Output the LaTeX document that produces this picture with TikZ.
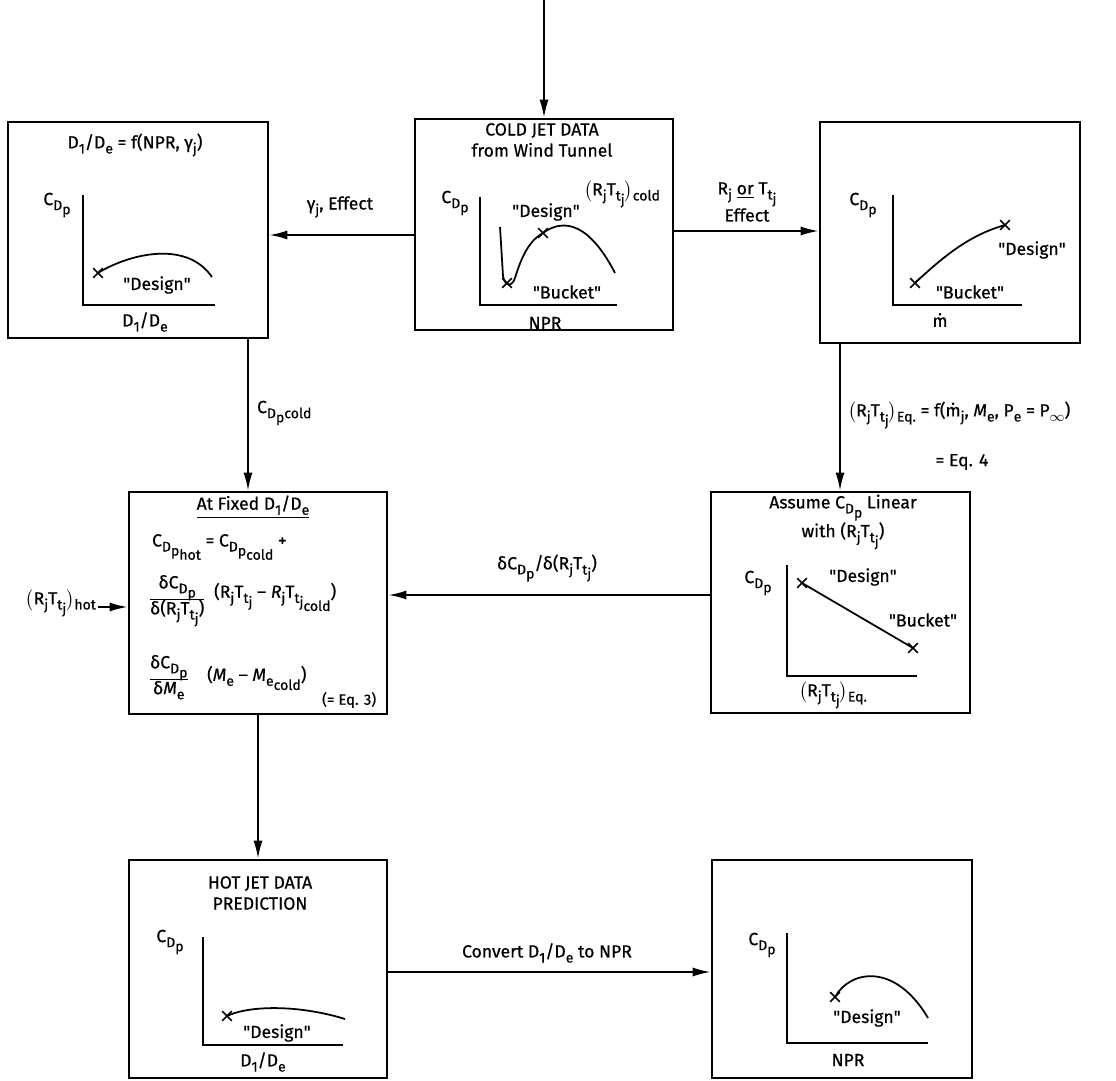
\documentclass[tikz,border=0pt]{standalone}
\usepackage{fontspec}
\setmainfont{Fira Sans}[FakeBold=0.6]
\usetikzlibrary{arrows.meta,shapes.misc}
\newcommand{\fnt}{\fontsize{10}{12}\selectfont}
\newcommand{\lw}[1]{\raisebox{-0.55ex}{\fontsize{8}{9}\selectfont #1}}
\newcommand{\cdp}{C\lw{D\lw{p}}}
\newcommand{\rt}{R\lw{j}T\lw{t\lw{j}}}
\newcommand{\frc}[2]{\begin{tabular}{@{}c@{}}#1\\[-1pt]\hline #2\end{tabular}}
\newcommand{\qt}[1]{\textquotedbl#1\textquotedbl}

\begin{document}
\begin{tikzpicture}[x=0.02cm, y=-0.02cm, font=\fnt,
  box/.style={draw, line width=1.5pt, inner sep=0pt},
  flow/.style={-{Latex[length=3.6mm,width=1.8mm]}, line width=1.1pt},
  axis/.style={line width=1.3pt},
  curve/.style={line width=1pt},
  lbl/.style={inner sep=1pt},
  xm/.style={cross out, draw, line width=0.9pt, minimum size=0.16cm, inner sep=0pt}]
\useasboundingbox (0,0) rectangle (1116,1081);

% boxes
\node[box, minimum width=5.20cm, minimum height=4.32cm] (dratio) at (138,230) {};
\node[box, minimum width=5.16cm, minimum height=4.22cm] (cold) at (544,224.5) {};
\node[box, minimum width=5.20cm, minimum height=4.42cm] (mflow) at (950,232.5) {};
\node[box, minimum width=5.18cm, minimum height=4.42cm] (linear) at (840.5,602.5) {};
\node[box, minimum width=5.16cm, minimum height=4.44cm] (fixed) at (258,603) {};
\node[box, minimum width=5.16cm, minimum height=4.36cm] (hot) at (258,969) {};
\node[box, minimum width=5.20cm, minimum height=4.36cm] (npr) at (842,969) {};

% connectors
\coordinate (src) at (544,0);
\coordinate (hotin) at (98,607);
\draw[flow] (src) -- (cold.north);
\draw[flow] (cold.west |- 0,235) -- (dratio.east |- 0,235);
\draw[flow] (cold.east |- 0,231) -- (mflow.west |- 0,231);
\draw[flow] (dratio.south -| 248,0) -- (fixed.north -| 248,0);
\draw[flow] (mflow.south -| 840,0) -- (linear.north -| 840,0);
\draw[flow] (linear.west |- 0,595) -- (fixed.east |- 0,595);
\draw[flow] (hotin) -- (fixed.west |- hotin);
\draw[flow] (fixed.south) -- (hot.north);
\draw[flow] (hot.east |- 0,972) -- (npr.west |- 0,972);

% connector labels
\node[lbl] (lgam) at (340,207) {γ\lw{j}, Effect};
\node[lbl, align=center] (lrt) at (747,202) {R\lw{j} \underline{or} T\lw{t\lw{j}}\\Effect};
\node[lbl, anchor=west] (lcold) at (255,413) {\cdp\lw{cold}};
\node[lbl, anchor=west] (leq) at (846,415) {$\big($\rt$\big)$\lw{Eq.} = f(\.m\lw{j}, \textit{M}\lw{e}, P\lw{e} = P\lw{$\infty$})};
\node[lbl] (leq4) at (962,462) {= Eq. 4};
\node[lbl] (lslope) at (547,568) {δ\cdp/δ(\rt)};
\node[lbl, anchor=east] (lhot) at (98,603) {$\big($\rt$\big)$\lw{hot}};
\node[lbl] (lconv) at (547,953) {Convert D\lw{1}/D\lw{e} to NPR};

% D1/De box
\node[lbl] (ta) at (135,145) {D\lw{1}/D\lw{e} = f(NPR, γ\lw{j})};
\node[lbl] (ya) at (57,205) {\cdp};
\draw[axis] (83,195) -- (83,305) -- (215,305);
\draw[curve] (98,273) .. controls (125,256) and (185,238) .. (212,277);
\node[xm] (xa) at (98,273) {};
\node[lbl] (da) at (157,285) {\qt{Design}};
\node[lbl] (ua) at (145,322) {D\lw{1}/D\lw{e}};

% cold jet box
\node[lbl, align=center] (tb) at (542,140) {COLD JET DATA\\from Wind Tunnel};
\node[lbl] (rb) at (622,194) {$\big($\rt$\big)$\lw{cold}};
\node[lbl] (yb) at (455,203) {\cdp};
\draw[axis] (480,197) -- (480,305) -- (617,305);
\draw[curve] (500,227) -- (503,276) .. controls (505,287) and (512,287) .. (515,278)
  .. controls (522,255) and (530,240) .. (543,233) .. controls (558,222) and (585,215) .. (615,273);
\node[xm] (xb1) at (507,283) {};
\node[xm] (xb2) at (543,233) {};
\node[lbl] (db) at (546,212) {\qt{Design}};
\node[lbl] (bb) at (567,292) {\qt{Bucket}};
\node[lbl] (ub) at (545,323) {NPR};

% mass flow box
\node[lbl] (yc) at (863,205) {\cdp};
\draw[axis] (893,195) -- (893,305) -- (1022,305);
\draw[curve] (915,283) .. controls (945,255) and (970,235) .. (1005,225);
\node[xm] (xc1) at (915,283) {};
\node[xm] (xc2) at (1005,225) {};
\node[lbl] (dc) at (1032,250) {\qt{Design}};
\node[lbl] (bc) at (970,292) {\qt{Bucket}};
\node[lbl] (uc) at (940,320) {\.m};

% linear box
\node[lbl, align=center] (td) at (843,522) {Assume \cdp{} Linear\\with (\rt)};
\node[lbl] (yd) at (758,583) {\cdp};
\draw[axis] (787,565) -- (787,676) -- (917,676);
\draw[curve] (802,583) -- (913,648);
\node[xm] (xd1) at (802,583) {};
\node[xm] (xd2) at (913,648) {};
\node[lbl] (dd) at (863,577) {\qt{Design}};
\node[lbl] (bd) at (923,620) {\qt{Bucket}};
\node[lbl] (ud) at (833,695) {$\big($\rt$\big)$\lw{Eq.}};

% fixed D1/De box
\node[lbl] (te) at (253,507) {\underline{At Fixed D\lw{1}/D\lw{e}}};
\node[lbl, anchor=west] (e1) at (150,547) {C\lw{D\lw{p\lw{hot}}} = C\lw{D\lw{p\lw{cold}}} +};
\node[lbl, anchor=west] (f1) at (148,600) {\frc{δ\cdp}{δ(\rt)}};
\node[lbl, anchor=west] (e2) at (212,597) {(\rt{} -- \textit{R}\lw{j}T\lw{t\lw{j\lw{cold}}})};
\node[lbl, anchor=west] (f2) at (148,677) {\frc{δ\cdp}{δ\textit{M}\lw{e}}};
\node[lbl, anchor=west] (e3) at (205,678) {(\textit{M}\lw{e} -- \textit{M}\lw{e\lw{cold}})};
\node[lbl, anchor=west, font=\fontsize{8.5}{10}\selectfont] (e4) at (320,700) {(= Eq. 3)};

% hot jet box
\node[lbl, align=center] (tf) at (260,893) {HOT JET DATA\\PREDICTION};
\node[lbl] (yf) at (170,942) {\cdp};
\draw[axis] (203,937) -- (203,1045) -- (343,1045);
\draw[curve] (227,1016) .. controls (250,1005) and (300,1005) .. (345,1019);
\node[xm] (xf) at (227,1016) {};
\node[lbl] (df) at (277,1033) {\qt{Design}};
\node[lbl] (uf) at (263,1062) {D\lw{1}/D\lw{e}};

% npr box
\node[lbl] (yg) at (762,945) {\cdp};
\draw[axis] (787,933) -- (787,1043) -- (928,1043);
\draw[curve] (835,997) .. controls (850,970) and (895,962) .. (928,1018);
\node[xm] (xg) at (835,997) {};
\node[lbl] (dg) at (867,1018) {\qt{Design}};
\node[lbl] (ug) at (848,1060) {NPR};
\end{tikzpicture}
\end{document}
